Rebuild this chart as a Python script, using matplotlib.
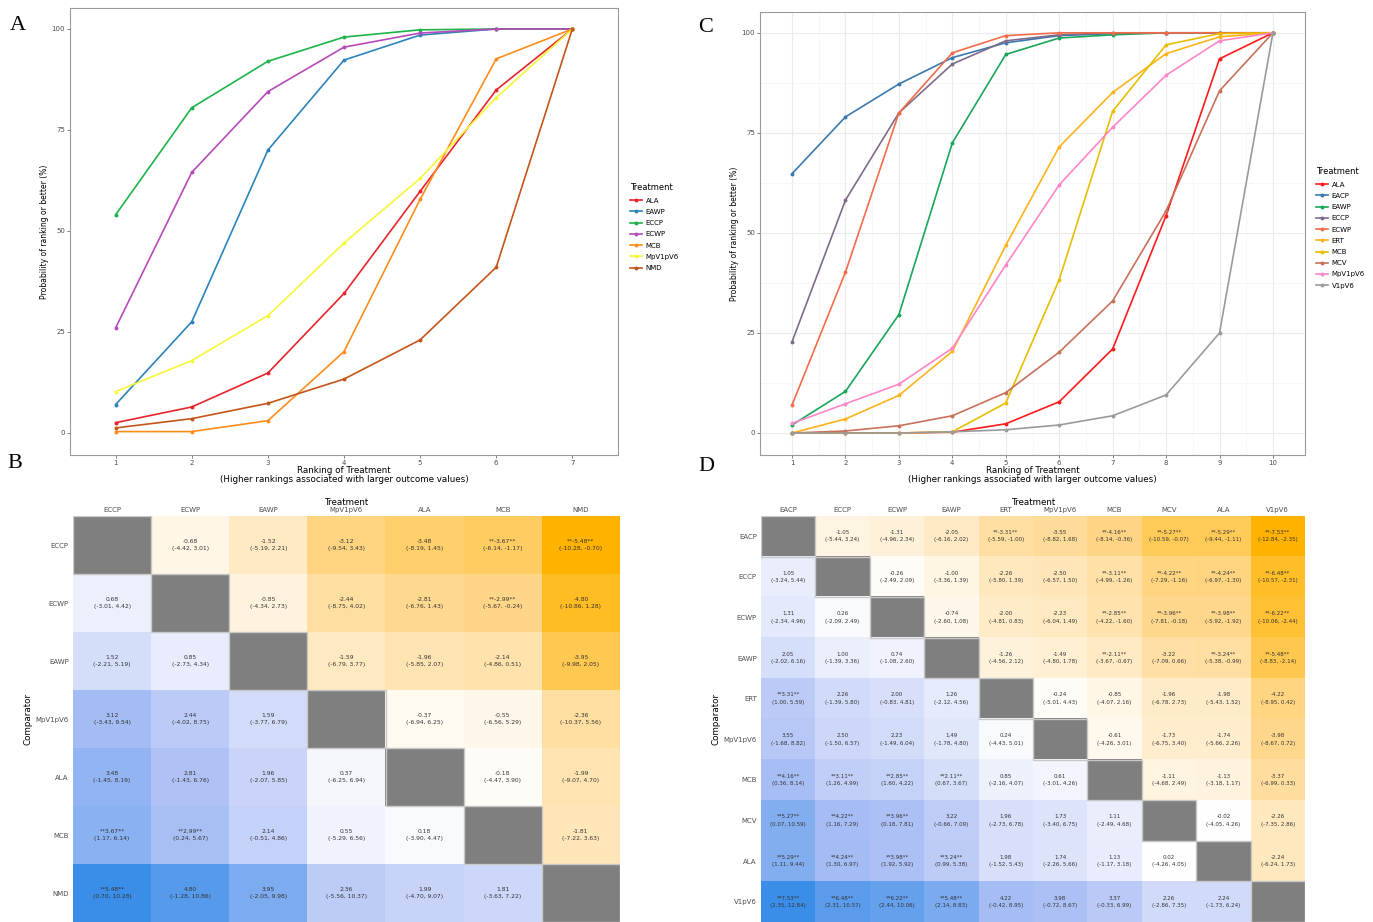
import numpy as np
import matplotlib
matplotlib.use("Agg")
import matplotlib.pyplot as plt
from matplotlib.colors import LinearSegmentedColormap, Normalize

# =============================================================================
# Data: panel A (cumulative ranking probabilities, %)
# =============================================================================
ranks_a = [1, 2, 3, 4, 5, 6, 7]
treat_a = ["ALA", "EAWP", "ECCP", "ECWP", "MCB", "MpV1pV6", "NMD"]
ala_a = [2.5, 6.4, 14.8, 34.5, 59.8, 84.9, 100]
eawp_a = [7.0, 27.5, 70.0, 92.3, 98.5, 100, 100]
eccp_a = [54.0, 80.5, 92.0, 98.0, 99.8, 100, 100]
ecwp_a = [26.0, 64.5, 84.5, 95.5, 99.0, 100, 100]
mcb_a = [0.3, 0.3, 3.0, 20.1, 57.8, 92.6, 100]
mpv_a = [10.2, 17.9, 29.0, 47.0, 63.0, 83.0, 100]
nmd_a = [1.2, 3.5, 7.3, 13.3, 23.0, 41.0, 100]
colors_a = ["#E8232A", "#2B83BA", "#1DB34A", "#B54AB8", "#FF8C1A", "#F7F73A", "#C4551A"]

# =============================================================================
# Data: panel C
# =============================================================================
ranks_c = [1, 2, 3, 4, 5, 6, 7, 8, 9, 10]
treat_c = ["ALA", "EACP", "EAWP", "ECCP", "ECWP", "ERT", "MCB", "MCV", "MpV1pV6", "V1pV6"]
ala_c = [0.0, 0.0, 0.0, 0.2, 2.3, 7.8, 21.0, 54.3, 93.5, 100]
eacp_c = [64.8, 79.0, 87.2, 93.8, 97.5, 99.3, 99.8, 100, 100, 100]
eawp_c = [2.0, 10.4, 29.6, 72.5, 94.6, 98.7, 99.5, 100, 100, 100]
eccp_c = [22.8, 58.2, 80.0, 92.2, 98.0, 99.5, 100, 100, 100, 100]
ecwp_c = [7.0, 40.2, 80.0, 95.0, 99.3, 100, 100, 100, 100, 100]
ert_c = [0.0, 3.5, 9.4, 20.4, 46.9, 71.5, 85.1, 94.8, 99.0, 100]
mcb_c = [0.0, 0.0, 0.0, 0.3, 7.5, 38.3, 80.4, 97.0, 99.8, 100]
mcv_c = [0.0, 0.5, 1.8, 4.3, 10.1, 20.2, 33.0, 55.5, 85.5, 100]
mpv_c = [2.4, 7.3, 12.2, 21.2, 42.0, 62.0, 76.4, 89.4, 98.0, 100]
v1p_c = [0.0, 0.0, 0.0, 0.3, 0.8, 2.0, 4.3, 9.5, 25.0, 100]
colors_c = ["#FF1A1A", "#3A78B0", "#1AA55A", "#7E6B8A", "#F26C4A",
            "#FFB31A", "#E8BE00", "#C8705A", "#FF85C8", "#9A9A9A"]

# =============================================================================
# Data: panel B league table (comparator row vs treatment column, lower triangle)
# =============================================================================
names_b = ["ECCP", "ECWP", "EAWP", "MpV1pV6", "ALA", "MCB", "NMD"]
est_b = [[],
         [0.68],
         [1.52, 0.85],
         [3.12, 2.44, 1.59],
         [3.48, 2.81, 1.96, 0.37],
         [3.67, 2.99, 2.14, 0.55, 0.18],
         [5.48, 4.80, 3.95, 2.36, 1.99, 1.81]]
lo_b = [[],
        [-3.01],
        [-2.21, -2.73],
        [-3.43, -4.02, -3.77],
        [-1.45, -1.43, -2.07, -6.25],
        [1.17, 0.24, -0.51, -5.29, -3.90],
        [0.70, -1.28, -2.05, -5.56, -4.70, -3.63]]
hi_b = [[],
        [4.42],
        [5.19, 4.34],
        [9.54, 8.75, 6.79],
        [8.19, 6.76, 5.85, 6.94],
        [6.14, 5.67, 4.86, 6.56, 4.47],
        [10.28, 10.86, 9.98, 10.37, 9.07, 7.22]]

# =============================================================================
# Data: panel D league table
# =============================================================================
names_d = ["EACP", "ECCP", "ECWP", "EAWP", "ERT", "MpV1pV6", "MCB", "MCV", "ALA", "V1pV6"]
est_d = [[],
         [1.05],
         [1.31, 0.26],
         [2.05, 1.00, 0.74],
         [3.31, 2.26, 2.00, 1.26],
         [3.55, 2.50, 2.23, 1.49, 0.24],
         [4.16, 3.11, 2.85, 2.11, 0.85, 0.61],
         [5.27, 4.22, 3.96, 3.22, 1.96, 1.73, 1.11],
         [5.29, 4.24, 3.98, 3.24, 1.98, 1.74, 1.13, 0.02],
         [7.53, 6.48, 6.22, 5.48, 4.22, 3.98, 3.37, 2.26, 2.24]]
lo_d = [[],
        [-3.24],
        [-2.34, -2.09],
        [-2.02, -1.39, -1.08],
        [1.00, -1.39, -0.83, -2.12],
        [-1.68, -1.50, -1.49, -1.78, -4.43],
        [0.36, 1.26, 1.60, 0.67, -2.16, -3.01],
        [0.07, 1.16, 0.18, -0.66, -2.73, -3.40, -2.49],
        [1.11, 1.30, 1.92, 0.99, -1.52, -2.26, -1.17, -4.26],
        [2.35, 2.31, 2.44, 2.14, -0.42, -0.72, -0.33, -2.86, -1.73]]
hi_d = [[],
        [5.44],
        [4.96, 2.49],
        [6.16, 3.36, 2.60],
        [5.59, 5.80, 4.81, 4.56],
        [8.82, 6.57, 6.04, 4.80, 5.01],
        [8.14, 4.99, 4.22, 3.67, 4.07, 4.26],
        [10.59, 7.29, 7.81, 7.09, 6.78, 6.75, 4.68],
        [9.44, 6.97, 5.92, 5.38, 5.43, 5.66, 3.18, 4.05],
        [12.84, 10.57, 10.06, 8.83, 8.95, 8.67, 6.99, 7.35, 6.24]]

W, H = 1373, 922
fig = plt.figure(figsize=(W / 100, H / 100), dpi=100)


def fig_rect(left, top, right, bottom):
    """pixel box -> figure fraction rect"""
    return [left / W, 1 - bottom / H, (right - left) / W, (bottom - top) / H]


def rank_panel(rect, ranks, treats, series, colors, xlim, legend_xy, grid):
    ax = fig.add_axes(rect)
    for name, vals, col in zip(treats, series, colors):
        ax.plot(ranks, vals, color=col, lw=1.2, marker="o", ms=1.8, label=name)
    ax.set_xlim(*xlim)
    ax.set_ylim(-5.5, 105.2)
    ax.set_xticks(ranks)
    ax.set_yticks([0, 25, 50, 75, 100])
    ax.tick_params(labelsize=5, colors="#4D4D4D", length=2, width=0.5, pad=1.5)
    for s in ax.spines.values():
        s.set_color("#9A9A9A")
        s.set_linewidth(0.8)
    if grid:
        ax.set_axisbelow(True)
        ax.set_yticks([12.5, 37.5, 62.5, 87.5], minor=True)
        ax.set_xticks([r + 0.5 for r in ranks[:-1]], minor=True)
        ax.tick_params(which="minor", length=0)
        ax.grid(True, which="major", color="#EBEBEB", lw=0.8)
        ax.grid(True, which="minor", color="#F4F4F4", lw=0.5)
    ax.set_xlabel("Ranking of Treatment\n(Higher rankings associated with larger outcome values)",
                  fontsize=6.3, labelpad=0, linespacing=1.0)
    ax.set_ylabel("Probability of ranking or better (%)", fontsize=5.5, labelpad=2)
    leg = ax.legend(loc="upper left", bbox_to_anchor=(legend_xy[0] / W, 1 - legend_xy[1] / H),
                    bbox_transform=fig.transFigure, frameon=False, fontsize=5,
                    title="Treatment", title_fontsize=6, handlelength=1.6,
                    labelspacing=0.75, borderpad=0, handletextpad=0.6)
    leg._legend_box.align = "left"
    return ax


rank_panel(fig_rect(70, 8, 618, 455), ranks_a, treat_a,
           [ala_a, eawp_a, eccp_a, ecwp_a, mcb_a, mpv_a, nmd_a],
           colors_a, (0.4, 7.6), (627, 180), grid=False)
rank_panel(fig_rect(760, 12, 1305, 455), ranks_c, treat_c,
           [ala_c, eacp_c, eawp_c, eccp_c, ecwp_c, ert_c, mcb_c, mcv_c, mpv_c, v1p_c],
           colors_c, (0.4, 10.6), (1313, 164), grid=True)

# colour scale for league tables: orange for negative, blue for positive
league_cmap = LinearSegmentedColormap.from_list(
    "league", ["#FFB300", "#FFDA95", "#FFFFFF", "#B4C4F6", "#3A8EE8"])
league_cmap.set_bad("#7F7F7F")


def league_panel(rect, names, est, lo, hi, fs):
    n = len(names)
    val = np.full((n, n), np.nan)
    low = np.full((n, n), np.nan)
    high = np.full((n, n), np.nan)
    for i in range(n):
        for j in range(i):
            val[i, j], low[i, j], high[i, j] = est[i][j], lo[i][j], hi[i][j]
            val[j, i], low[j, i], high[j, i] = -est[i][j], -hi[i][j], -lo[i][j]
    vmax = np.nanmax(np.abs(val))
    ax = fig.add_axes(rect)
    ax.imshow(np.ma.masked_invalid(val), cmap=league_cmap,
              norm=Normalize(-vmax, vmax), aspect="auto", interpolation="nearest")
    for i in range(n):
        ax.add_patch(plt.Rectangle((i - 0.5, i - 0.5), 1, 1, fill=False,
                                   ec="#C8C8C8", lw=1.0))
        for j in range(n):
            if i == j:
                continue
            star = "**" if low[i, j] > 0 or high[i, j] < 0 else ""
            txt = f"{star}{val[i, j]:.2f}{star}\n({low[i, j]:.2f}, {high[i, j]:.2f})"
            ax.text(j, i, txt, ha="center", va="center", fontsize=fs,
                    color="#333333", linespacing=1.6)
    ax.set_xticks(range(n))
    ax.set_xticklabels(names)
    ax.set_yticks(range(n))
    ax.set_yticklabels(names)
    ax.xaxis.tick_top()
    ax.xaxis.set_label_position("top")
    ax.tick_params(length=0, labelsize=5, colors="#4D4D4D", pad=2)
    ax.tick_params(axis="y", pad=3)
    ax.set_xlabel("Treatment", fontsize=6.3, labelpad=1.5)
    ax.set_ylabel("Comparator", fontsize=6.3, labelpad=2)
    ax.set_ylim(n - 0.5, -0.5)
    for s in ax.spines.values():
        s.set_visible(False)
    return ax


league_panel(fig_rect(73, 516, 620, 922), names_b, est_b, lo_b, hi_b, fs=4.3)
league_panel(fig_rect(761, 516, 1305, 922), names_d, est_d, lo_d, hi_d, fs=4.0)

# panel letters
for letter, x, y in [("A", 18, 25), ("B", 15, 463), ("C", 706, 28), ("D", 706, 466)]:
    fig.text(x / W, 1 - y / H, letter, fontsize=16, family="Liberation Serif",
             ha="center", va="center")

fig.savefig("out.png", dpi=100)
